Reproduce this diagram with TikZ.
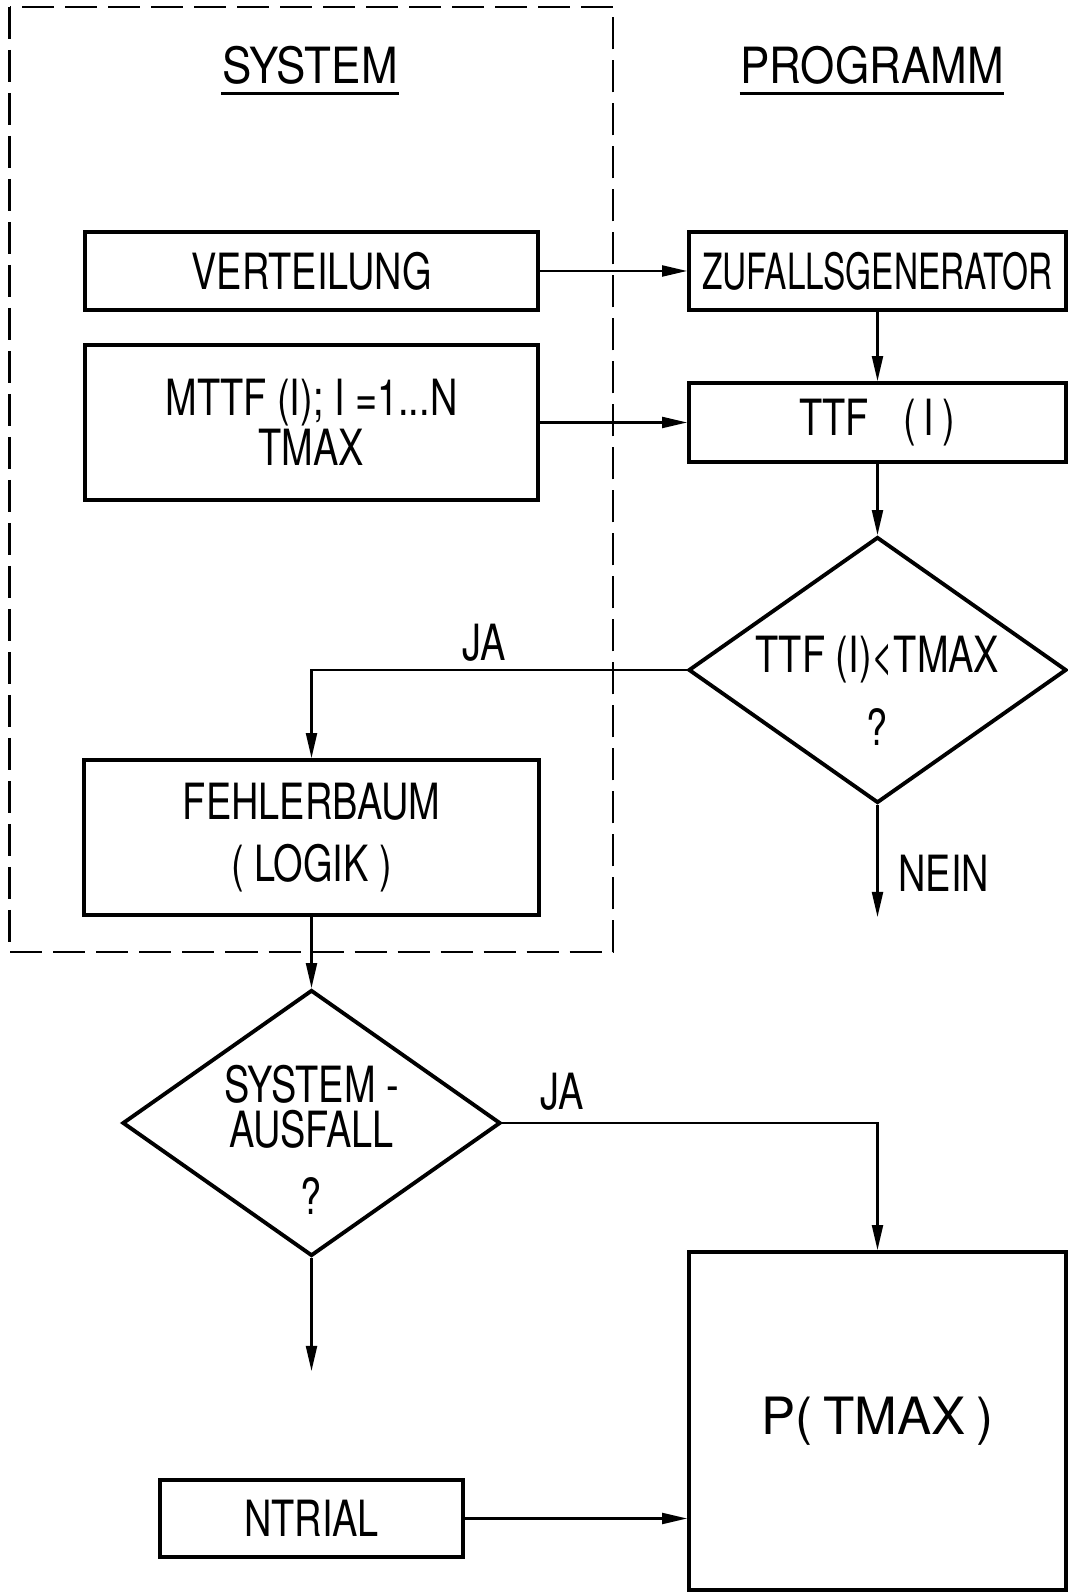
\documentclass[tikz,border=0pt]{standalone}
\usepackage{fontspec}
\setmainfont{TeX Gyre Heros}[FakeStretch=0.76]
\usetikzlibrary{arrows.meta,positioning,shapes.geometric}
\tikzset{
  >={Triangle[length=2.5mm,width=1.1mm]},
  txt/.style={font=\fontsize{14.2pt}{12.8pt}\selectfont,inner sep=0pt},
  blk/.style={draw,line width=1.1pt,inner sep=0pt,txt,align=center},
  entsch/.style={diamond,draw,line width=1.1pt,inner sep=0pt,
                 minimum width=3.78cm,minimum height=2.66cm},
  fl/.style={->,line width=0.6pt},
  rahmen/.style={line width=0.6pt,dash pattern=on 3.2mm off 1.1mm},
  uline/.style={line width=0.9pt},
}
\begin{document}
\begin{tikzpicture}
\useasboundingbox (0,0) rectangle (10.68,15.93);
  % system-rahmen
  \draw[rahmen] (0.095,15.86) rectangle (6.13,6.41);
  \node[txt] (sys) at (3.10,15.28) {\scalebox{1.16}[1]{SYSTEM}};
  \node[txt] (prog) at (8.72,15.28) {\scalebox{1.16}[1]{PROGRAMM}};
  \draw[uline] ([yshift=-1mm]sys.base west) -- ([yshift=-1mm]sys.base east);
  \draw[uline] ([yshift=-1mm]prog.base west) -- ([yshift=-1mm]prog.base east);
  % kästen
  \node[blk,minimum width=4.53cm,minimum height=0.78cm] (vert) at (3.115,13.22) {VERTEILUNG};
  \node[blk,minimum width=3.77cm,minimum height=0.78cm] (zuf) at (8.775,13.22) {\scalebox{0.88}[1]{ZUFALLSGENERATOR}};
  \node[blk,minimum width=4.53cm,minimum height=1.55cm] (mttf) at (3.115,11.705) {MTTF (I); I =1...N\\TMAX};
  \node[blk,minimum width=3.77cm,minimum height=0.79cm] (ttf) at (8.775,11.705) {TTF\hspace{3.4mm}(\,I\,)};
  \node[entsch,label={[txt,align=center,yshift=-2.1mm]center:{TTF (I)<TMAX\\[6.2pt]?}}] (ent1) at (8.775,9.23) {};
  \node[blk,minimum width=4.55cm,minimum height=1.55cm] (feh) at (3.115,7.555) {FEHLERBAUM\\[4.8pt]( LOGIK )};
  \node[entsch,label={[txt,align=center,yshift=-1.65mm]center:{SYSTEM -\\AUSFALL\\[6.2pt]?}}] (ent2) at (3.115,4.70) {};
  \node[blk,minimum width=3.03cm,minimum height=0.77cm] (ntrial) at (3.115,0.745) {NTRIAL};
  \node[blk,minimum width=3.77cm,minimum height=3.38cm] (ptmax) at (8.775,1.72) {\scalebox{1.35}[1.03]{P(\,TMAX\,)}};
  \coordinate (nein) at (8.775,6.76);
  \coordinate (ausf) at (3.115,2.22);
  % pfeile
  \draw[fl] (vert) -- (zuf);
  \draw[fl] (zuf) -- (ttf);
  \draw[fl] (mttf) -- (ttf);
  \draw[fl] (ttf) -- (ent1);
  \draw[fl] (ent1.west) -| node[txt,above=0.8mm,pos=0.27] (ja1) {JA} (feh.north);
  \draw[fl] (ent1.south) -- node[txt,right=2mm,pos=0.61] (nein1) {NEIN} (nein);
  \draw[fl] (feh) -- (ent2);
  \draw[fl] (ent2.east) -| node[txt,above=1.2mm,pos=0.08] (ja2) {JA} (ptmax.north);
  \draw[fl] (ent2.south) -- (ausf);
  \draw[fl] (ntrial.east) -- (ntrial.east -| ptmax.west);
\end{tikzpicture}
\end{document}
